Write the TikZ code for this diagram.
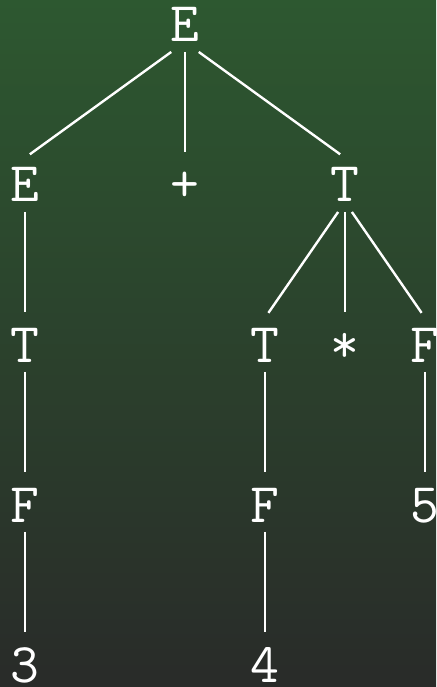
\documentclass[tikz,border=0pt]{standalone}
\usepackage{tikz}
\usetikzlibrary{positioning,calc}
\definecolor{boardtop}{RGB}{45,88,48}
\definecolor{boardbot}{RGB}{41,43,41}
\tikzset{
  sym/.style={anchor=base,text=white,font=\ttfamily\fontsize{56}{60}\selectfont,
              text height=34pt,text depth=0pt,inner xsep=0pt,inner ysep=10pt},
  branch/.style={draw=white,line width=2.4pt,shorten >=6pt}
}
\begin{document}
\begin{tikzpicture}[x=80pt,y=-160pt]
  \shade[top color=boardtop,bottom color=boardbot]
    (-0.3125,-0.2625) rectangle (5.1375,4.03125);
  \useasboundingbox (-0.3125,-0.2625) rectangle (5.1375,4.03125);
  % parse tree for 3 + 4 * 5
  \node[sym] (e0) at (2,0) {E};
  \node[sym] (e1) at (0,1) {E};
  \node[sym] (plus) at (2,1) {+};
  \node[sym] (t1) at (4,1) {T};
  \node[sym] (t2) at (0,2) {T};
  \node[sym] (t3) at (3,2) {T};
  \node[sym] (star) at (4,2) {*};
  \node[sym] (f1) at (5,2) {F};
  \node[sym] (f2) at (0,3) {F};
  \node[sym] (f3) at (3,3) {F};
  \node[sym] (five) at (5,3) {5};
  \node[sym] (three) at (0,4) {3};
  \node[sym] (four) at (3,4) {4};
  \foreach \a/\b in {e0/e1,e0/plus,e0/t1,e1/t2,t1/t3,t1/star,t1/f1,
                     t2/f2,t3/f3,f1/five,f2/three,f3/four}
    \draw[branch] ($(\a.base)!0.086!(\b.north)$) -- (\b.north);
\end{tikzpicture}
\end{document}
